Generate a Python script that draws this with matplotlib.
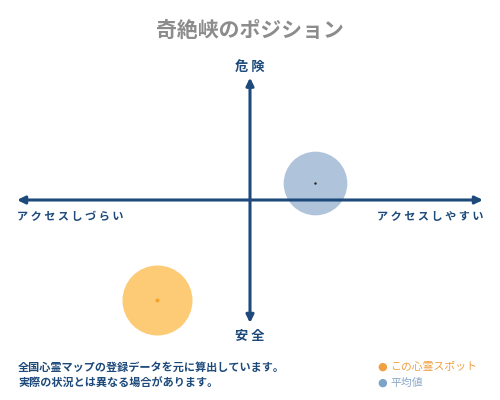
import matplotlib
matplotlib.use('Agg')
import matplotlib.pyplot as plt

plt.rcParams['font.family'] = ['Noto Sans CJK JP', 'DejaVu Sans']

# data: position on the access (x) / danger (y) plane, range -1..1
title = '奇絶峡のポジション'
x_labels = ['アクセスしづらい', 'アクセスしやすい']
y_labels = ['安全', '危険']
spot_x, spot_y = -0.40, -0.83
avg_x, avg_y = 0.28, 0.14
legend_labels = ['この心霊スポット', '平均値']
notes = ['全国心霊マップの登録データを元に算出しています。',
         '実際の状況とは異なる場合があります。']

navy = '#1d4a7a'
spot_fill = '#fdca75'
spot_dot = '#f3a22a'
avg_fill = '#afc3da'


def spaced(s):
    return ' '.join(s)


fig = plt.figure(figsize=(5, 4), dpi=100)
fig.patch.set_facecolor('white')

ax = fig.add_axes([17 / 500, 80 / 400, 466 / 500, 240 / 400])
ax.set_xlim(-1, 1)
ax.set_ylim(-1, 1)
ax.axis('off')

arrow = dict(arrowstyle='<|-|>,head_length=0.45,head_width=0.22', color=navy,
             lw=2.2, shrinkA=0, shrinkB=0)
ax.annotate('', xy=(1, 0), xytext=(-1, 0), arrowprops=arrow, zorder=4,
            annotation_clip=False)
ax.annotate('', xy=(0, 1.02), xytext=(0, -1.025), arrowprops=arrow, zorder=4,
            annotation_clip=False)

ax.scatter([avg_x], [avg_y], s=2100, color=avg_fill, lw=0, zorder=2,
           clip_on=False)
ax.scatter([avg_x], [avg_y], s=3, color='#222222', lw=0, zorder=3,
           clip_on=False)
ax.scatter([spot_x], [spot_y], s=2540, color=spot_fill, lw=0, zorder=2,
           clip_on=False)
ax.scatter([spot_x], [spot_y], s=8, color=spot_dot, lw=0, zorder=3,
           clip_on=False)

ax.text(-1, -0.08, spaced(x_labels[0]), ha='left', va='top', fontsize=8,
        color=navy, fontweight='bold')
ax.text(1, -0.08, spaced(x_labels[1]), ha='right', va='top', fontsize=8,
        color=navy, fontweight='bold')

fig.text(0.5, 1 - 67 / 400, spaced(y_labels[1]), ha='center', va='center',
         fontsize=9.5, color=navy, fontweight='bold')
fig.text(0.5, 1 - 336 / 400, spaced(y_labels[0]), ha='center', va='center',
         fontsize=9.5, color=navy, fontweight='bold')

fig.text(0.5, 1 - 30 / 400, title, ha='center', va='center', fontsize=15,
         color='#8c8c8c', fontweight='bold')

fig.text(18 / 500, 1 - 367 / 400, notes[0], ha='left', va='center', fontsize=8,
         color=navy, fontweight='bold')
fig.text(18 / 500, 1 - 383 / 400, notes[1], ha='left', va='center', fontsize=8,
         color=navy, fontweight='bold')

fig.text(382 / 500, 1 - 367 / 400, '●', ha='center', va='center', fontsize=8,
         color='#f0a040', family=['DejaVu Sans'])
fig.text(390 / 500, 1 - 367 / 400, legend_labels[0], ha='left', va='center',
         fontsize=7.8, color='#f0a040')
fig.text(382 / 500, 1 - 383 / 400, '●', ha='center', va='center', fontsize=8,
         color='#7ea3c8', family=['DejaVu Sans'])
fig.text(390 / 500, 1 - 383 / 400, legend_labels[1], ha='left', va='center',
         fontsize=7.8, color='#8aa8c8')

fig.savefig('out.png', dpi=100)
